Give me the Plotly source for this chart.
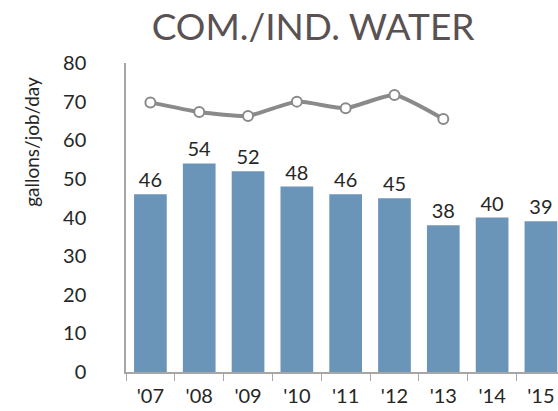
import plotly.graph_objects as go

years = ["'07", "'08", "'09", "'10", "'11", "'12", "'13", "'14", "'15"]
bar_values = [46, 54, 52, 48, 46, 45, 38, 40, 39]
line_years = ["'07", "'08", "'09", "'10", "'11", "'12", "'13"]
line_values = [69.8, 67.3, 66.3, 70.0, 68.3, 71.7, 65.5]
y_ticks = [0, 10, 20, 30, 40, 50, 60, 70, 80]

FONT = "Lato"

fig = go.Figure()
fig.add_trace(go.Bar(
    x=years, y=bar_values, text=[str(v) for v in bar_values],
    textposition="outside", cliponaxis=False,
    textfont=dict(family=FONT, size=20, color="#262626"),
    marker=dict(color="#6b95b8", line=dict(width=0)),
    width=0.67,
))
fig.add_trace(go.Scatter(
    x=line_years, y=line_values, mode="lines+markers",
    line=dict(color="#8a8a8a", width=4, shape="spline", smoothing=0.5),
    marker=dict(symbol="circle", size=10, color="white",
                line=dict(color="#8a8a8a", width=2)),
))

fig.update_layout(
    width=558, height=411,
    margin=dict(l=126, r=0, t=63, b=39, autoexpand=False),
    paper_bgcolor="white", plot_bgcolor="white",
    showlegend=False,
    title=dict(text="COM./IND. WATER", x=0.561, xref="container",
               y=0.934, yref="container", xanchor="center", yanchor="middle",
               font=dict(family=FONT, size=37, color="#595152")),
    xaxis=dict(type="category", range=[-0.5, 8.35], showline=True,
               linecolor="#a6a6a6", linewidth=1.5, ticks="outside",
               tickson="boundaries", ticklen=7, tickcolor="#a6a6a6",
               ticklabelstandoff=5,
               tickfont=dict(family=FONT, size=20, color="#262626"),
               showgrid=False, zeroline=False),
    yaxis=dict(range=[0, 80], tickvals=y_ticks, showline=True,
               linecolor="#a6a6a6", linewidth=1.5, ticks="",
               ticklabelstandoff=34,
               tickfont=dict(family=FONT, size=20, color="#262626"),
               showgrid=False, zeroline=False),
    annotations=[dict(text="gallons/job/day", textangle=-90,
                      xref="paper", yref="paper", x=-0.2176, y=0.745,
                      xanchor="center", yanchor="middle", showarrow=False,
                      font=dict(family=FONT, size=19, color="#262626"))],
)

fig.write_html("out.html", config={"displayModeBar": False},
               post_script="document.body.style.margin='0';document.body.style.overflow='hidden';")
